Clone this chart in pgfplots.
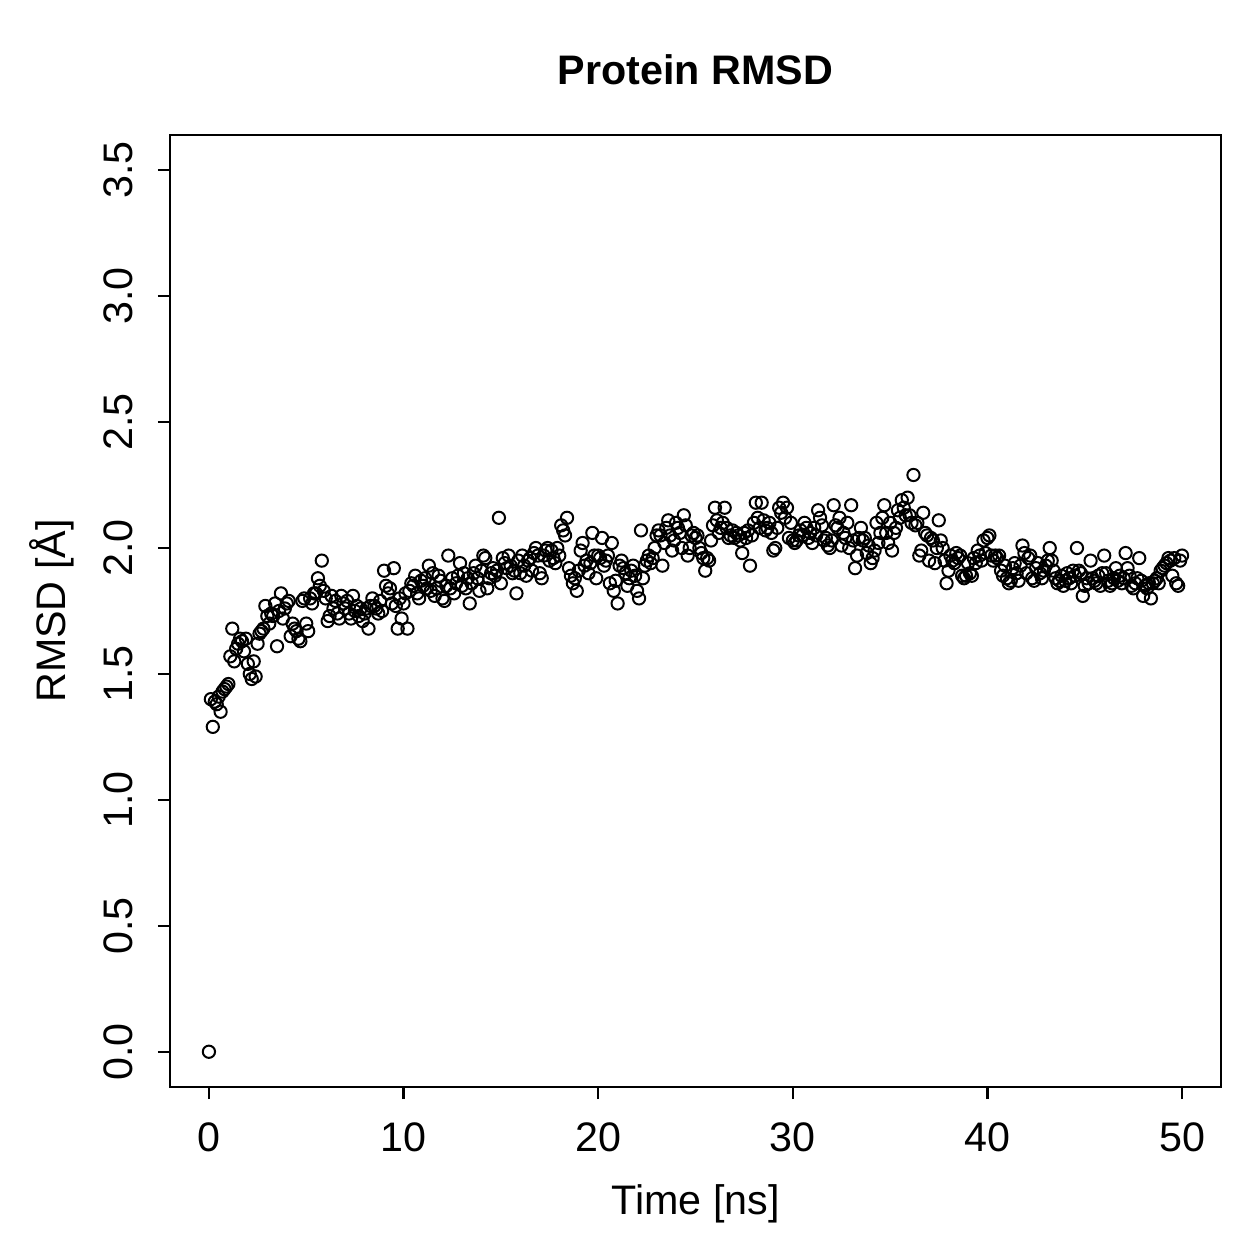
\documentclass[border=0pt]{standalone}
\usepackage{fontspec}
\setmainfont{Liberation Sans}
\usepackage{pgfplots}
\pgfplotsset{compat=1.18}

\begin{document}
\begin{tikzpicture}[x=1pt,y=1pt]
\useasboundingbox (-68,-68.8) rectangle (435.6,434.8);
\begin{axis}[
  at={(0,0)}, anchor=south west,
  width=420.4pt, height=380.8pt, scale only axis,
  xmin=-2, xmax=52, ymin=-0.14, ymax=3.64,
  xtick={0,10,20,30,40,50},
  ytick={0,0.5,1,1.5,2,2.5,3,3.5},
  xtick pos=bottom, ytick pos=left,
  tick align=outside, major tick length=4.8pt,
  every tick/.style={black, line width=0.9pt},
  axis line style={line width=0.9pt},
  /pgf/number format/assume math mode=true,
  tick label style={font=\fontsize{16.5}{19.8}\selectfont, inner sep=0pt},
  xticklabel style={anchor=north},
  xticklabel shift=9.2pt,
  yticklabel style={rotate=90, anchor=south,
    /pgf/number format/.cd, fixed, fixed zerofill, precision=1},
  yticklabel shift=10pt,
  xlabel={Time [ns]}, ylabel={RMSD [Å]},
  label style={font=\fontsize{16.5}{19.8}\selectfont},
  xlabel style={at={(axis description cs:0.5,-0.1225)}, anchor=center},
  ylabel style={at={(axis description cs:-0.1123,0.5)}, anchor=center, rotate=0},
  title={Protein RMSD},
  title style={at={(axis description cs:0.5,1.0525)}, anchor=center,
    font=\bfseries\fontsize{16.5}{19.8}\selectfont},
  clip=false,
]
\addplot[only marks, mark=o, mark size=2.45pt, mark options={line width=0.8pt, black}] coordinates {
(0.0,0.00)(0.1,1.40)(0.2,1.29)(0.3,1.39)(0.4,1.38)(0.5,1.41)(0.6,1.35)(0.7,1.43)(0.8,1.44)(0.9,1.45)
(1.0,1.46)(1.1,1.57)(1.2,1.68)(1.3,1.55)(1.4,1.60)(1.5,1.62)(1.6,1.64)(1.7,1.63)(1.8,1.59)(1.9,1.64)
(2.0,1.54)(2.1,1.50)(2.2,1.48)(2.3,1.55)(2.4,1.49)(2.5,1.62)(2.6,1.66)(2.7,1.67)(2.8,1.68)(2.9,1.77)
(3.0,1.73)(3.1,1.70)(3.2,1.74)(3.3,1.73)(3.4,1.78)(3.5,1.61)(3.6,1.75)(3.7,1.82)(3.8,1.72)(3.9,1.76)
(4.0,1.78)(4.1,1.79)(4.2,1.65)(4.3,1.70)(4.4,1.68)(4.5,1.67)(4.6,1.64)(4.7,1.63)(4.8,1.79)(4.9,1.80)
(5.0,1.70)(5.1,1.67)(5.2,1.80)(5.3,1.78)(5.4,1.82)(5.5,1.82)(5.6,1.88)(5.7,1.85)(5.8,1.95)(5.9,1.83)
(6.0,1.80)(6.1,1.71)(6.2,1.73)(6.3,1.81)(6.4,1.76)(6.5,1.79)(6.6,1.74)(6.7,1.72)(6.8,1.81)(6.9,1.78)
(7.0,1.76)(7.1,1.79)(7.2,1.74)(7.3,1.72)(7.4,1.81)(7.5,1.75)(7.6,1.77)(7.7,1.73)(7.8,1.76)(7.9,1.71)
(8.0,1.74)(8.1,1.76)(8.2,1.68)(8.3,1.77)(8.4,1.80)(8.5,1.77)(8.6,1.76)(8.7,1.74)(8.8,1.79)(8.9,1.75)
(9.0,1.91)(9.1,1.85)(9.2,1.82)(9.3,1.84)(9.4,1.78)(9.5,1.92)(9.6,1.77)(9.7,1.68)(9.8,1.80)(9.9,1.72)
(10.0,1.78)(10.1,1.82)(10.2,1.68)(10.3,1.83)(10.4,1.86)(10.5,1.85)(10.6,1.89)(10.7,1.82)(10.8,1.80)(10.9,1.87)
(11.0,1.85)(11.1,1.88)(11.2,1.84)(11.3,1.93)(11.4,1.83)(11.5,1.90)(11.6,1.81)(11.7,1.84)(11.8,1.89)(11.9,1.87)
(12.0,1.80)(12.1,1.79)(12.2,1.85)(12.3,1.97)(12.4,1.84)(12.5,1.88)(12.6,1.82)(12.7,1.86)(12.8,1.89)(12.9,1.94)
(13.0,1.85)(13.1,1.90)(13.2,1.84)(13.3,1.88)(13.4,1.78)(13.5,1.86)(13.6,1.90)(13.7,1.93)(13.8,1.88)(13.9,1.83)
(14.0,1.91)(14.1,1.97)(14.2,1.96)(14.3,1.84)(14.4,1.88)(14.5,1.90)(14.6,1.92)(14.7,1.89)(14.8,1.91)(14.9,2.12)
(15.0,1.86)(15.1,1.96)(15.2,1.94)(15.3,1.92)(15.4,1.97)(15.5,1.93)(15.6,1.90)(15.7,1.91)(15.8,1.82)(15.9,1.95)
(16.0,1.90)(16.1,1.97)(16.2,1.93)(16.3,1.89)(16.4,1.95)(16.5,1.96)(16.6,1.91)(16.7,1.98)(16.8,2.00)(16.9,1.97)
(17.0,1.90)(17.1,1.88)(17.2,1.97)(17.3,1.99)(17.4,2.00)(17.5,1.95)(17.6,1.99)(17.7,1.96)(17.8,1.94)(17.9,2.00)
(18.0,1.97)(18.1,2.09)(18.2,2.07)(18.3,2.05)(18.4,2.12)(18.5,1.92)(18.6,1.89)(18.7,1.86)(18.8,1.88)(18.9,1.83)
(19.0,1.91)(19.1,1.99)(19.2,2.02)(19.3,1.93)(19.4,1.95)(19.5,1.90)(19.6,1.94)(19.7,2.06)(19.8,1.97)(19.9,1.88)
(20.0,1.97)(20.1,1.96)(20.2,2.04)(20.3,1.93)(20.4,1.95)(20.5,1.97)(20.6,1.86)(20.7,2.02)(20.8,1.83)(20.9,1.87)
(21.0,1.78)(21.1,1.93)(21.2,1.95)(21.3,1.92)(21.4,1.90)(21.5,1.85)(21.6,1.88)(21.7,1.91)(21.8,1.93)(21.9,1.89)
(22.0,1.83)(22.1,1.80)(22.2,2.07)(22.3,1.88)(22.4,1.93)(22.5,1.95)(22.6,1.97)(22.7,1.94)(22.8,1.96)(22.9,2.00)
(23.0,2.05)(23.1,2.07)(23.2,2.05)(23.3,1.93)(23.4,2.02)(23.5,2.08)(23.6,2.11)(23.7,2.05)(23.8,1.99)(23.9,2.03)
(24.0,2.10)(24.1,2.08)(24.2,2.06)(24.3,2.00)(24.4,2.13)(24.5,2.09)(24.6,1.97)(24.7,2.00)(24.8,2.05)(24.9,2.06)
(25.0,2.04)(25.1,2.05)(25.2,2.00)(25.3,1.98)(25.4,1.96)(25.5,1.91)(25.6,1.96)(25.7,1.95)(25.8,2.03)(25.9,2.09)
(26.0,2.16)(26.1,2.11)(26.2,2.06)(26.3,2.08)(26.4,2.10)(26.5,2.16)(26.6,2.08)(26.7,2.04)(26.8,2.05)(26.9,2.07)
(27.0,2.04)(27.1,2.06)(27.2,2.05)(27.3,2.03)(27.4,1.98)(27.5,2.06)(27.6,2.04)(27.7,2.07)(27.8,1.93)(27.9,2.05)
(28.0,2.10)(28.1,2.18)(28.2,2.12)(28.3,2.08)(28.4,2.18)(28.5,2.11)(28.6,2.07)(28.7,2.08)(28.8,2.10)(28.9,2.06)
(29.0,1.99)(29.1,2.00)(29.2,2.08)(29.3,2.16)(29.4,2.14)(29.5,2.18)(29.6,2.12)(29.7,2.16)(29.8,2.04)(29.9,2.10)
(30.0,2.03)(30.1,2.02)(30.2,2.03)(30.3,2.05)(30.4,2.07)(30.5,2.05)(30.6,2.10)(30.7,2.08)(30.8,2.04)(30.9,2.06)
(31.0,2.02)(31.1,2.08)(31.2,2.05)(31.3,2.15)(31.4,2.12)(31.5,2.09)(31.6,2.03)(31.7,2.04)(31.8,2.01)(31.9,2.00)
(32.0,2.03)(32.1,2.17)(32.2,2.09)(32.3,2.08)(32.4,2.12)(32.5,2.01)(32.6,2.06)(32.7,2.04)(32.8,2.10)(32.9,2.00)
(33.0,2.17)(33.1,2.03)(33.2,1.92)(33.3,1.97)(33.4,2.04)(33.5,2.08)(33.6,2.03)(33.7,2.04)(33.8,1.98)(33.9,2.01)
(34.0,1.94)(34.1,1.96)(34.2,1.99)(34.3,2.10)(34.4,2.02)(34.5,2.06)(34.6,2.12)(34.7,2.17)(34.8,2.06)(34.9,2.02)
(35.0,2.10)(35.1,1.99)(35.2,2.06)(35.3,2.08)(35.4,2.15)(35.5,2.12)(35.6,2.19)(35.7,2.16)(35.8,2.13)(35.9,2.20)
(36.0,2.13)(36.1,2.10)(36.2,2.29)(36.3,2.09)(36.4,2.10)(36.5,1.97)(36.6,1.99)(36.7,2.14)(36.8,2.06)(36.9,2.05)
(37.0,1.95)(37.1,2.04)(37.2,2.03)(37.3,1.94)(37.4,2.00)(37.5,2.11)(37.6,2.03)(37.7,2.00)(37.8,1.95)(37.9,1.86)
(38.0,1.91)(38.1,1.97)(38.2,1.95)(38.3,1.94)(38.4,1.98)(38.5,1.96)(38.6,1.97)(38.7,1.89)(38.8,1.88)(38.9,1.89)
(39.0,1.94)(39.1,1.90)(39.2,1.89)(39.3,1.96)(39.4,1.94)(39.5,1.99)(39.6,1.97)(39.7,1.95)(39.8,2.03)(39.9,1.98)
(40.0,2.04)(40.1,2.05)(40.2,1.97)(40.3,1.95)(40.4,1.97)(40.5,1.96)(40.6,1.97)(40.7,1.91)(40.8,1.89)(40.9,1.93)
(41.0,1.88)(41.1,1.86)(41.2,1.87)(41.3,1.92)(41.4,1.94)(41.5,1.90)(41.6,1.87)(41.7,1.93)(41.8,2.01)(41.9,1.98)
(42.0,1.90)(42.1,1.96)(42.2,1.97)(42.3,1.88)(42.4,1.87)(42.5,1.92)(42.6,1.94)(42.7,1.90)(42.8,1.88)(42.9,1.91)
(43.0,1.93)(43.1,1.95)(43.2,2.00)(43.3,1.95)(43.4,1.91)(43.5,1.88)(43.6,1.86)(43.7,1.87)(43.8,1.89)(43.9,1.85)
(44.0,1.87)(44.1,1.90)(44.2,1.88)(44.3,1.86)(44.4,1.91)(44.5,1.89)(44.6,2.00)(44.7,1.91)(44.8,1.90)(44.9,1.81)
(45.0,1.85)(45.1,1.88)(45.2,1.86)(45.3,1.95)(45.4,1.88)(45.5,1.87)(45.6,1.86)(45.7,1.89)(45.8,1.85)(45.9,1.90)
(46.0,1.97)(46.1,1.90)(46.2,1.87)(46.3,1.85)(46.4,1.86)(46.5,1.88)(46.6,1.92)(46.7,1.87)(46.8,1.89)(46.9,1.86)
(47.0,1.88)(47.1,1.98)(47.2,1.92)(47.3,1.89)(47.4,1.85)(47.5,1.84)(47.6,1.86)(47.7,1.88)(47.8,1.96)(47.9,1.87)
(48.0,1.81)(48.1,1.85)(48.2,1.84)(48.3,1.86)(48.4,1.80)(48.5,1.86)(48.6,1.87)(48.7,1.88)(48.8,1.86)(48.9,1.91)
(49.0,1.92)(49.1,1.93)(49.2,1.94)(49.3,1.96)(49.4,1.95)(49.5,1.89)(49.6,1.96)(49.7,1.86)(49.8,1.85)(49.9,1.95)
(50.0,1.97)
};
\end{axis}
\end{tikzpicture}
\end{document}
